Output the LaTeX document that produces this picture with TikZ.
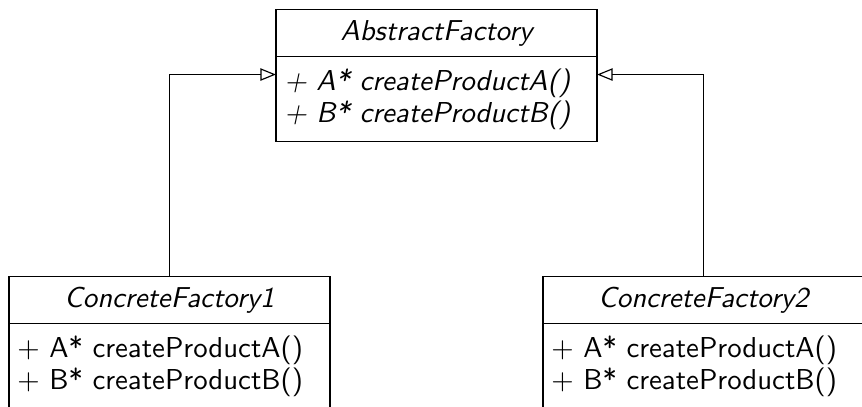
\documentclass[tikz,border=0pt]{standalone}
\usepackage{tikz}
\usetikzlibrary{arrows.meta,positioning}

\begin{document}
\begin{tikzpicture}[
        x=0.3472pt, y=0.3472pt,
        every node/.style={font=\sffamily\fontsize{10}{11.25}\selectfont},
        classname/.style={
            draw,
            minimum width=111.5pt,
            minimum height=16.33pt,
            inner sep=0pt,
            outer sep=0pt
        },
        classops/.style={
            draw,
            minimum height=29.5pt,
            text width=105.66pt,
            inner xsep=2.92pt,
            inner ysep=0pt,
            outer sep=0pt,
            align=left
        },
        inherit/.style={-{Triangle[open, length=5.4pt, width=4.3pt]}}
    ]

        \useasboundingbox (0,0) rectangle (862,406);

        % abstract factory
        \node[classname] (af) at (436.5,373) {\itshape AbstractFactory};
        \node[classops, below=0pt of af] (afops)
            {\itshape + A* createProductA()\\\itshape + B* createProductB()};

        % concrete factories
        \node[classname] (cf1) at (169.5,106) {\itshape ConcreteFactory1};
        \node[classops, below=0pt of cf1] (cf1ops)
            {+ A* createProductA()\\+ B* createProductB()};

        \node[classname] (cf2) at (703.5,106) {\itshape ConcreteFactory2};
        \node[classops, below=0pt of cf2] (cf2ops)
            {+ A* createProductA()\\+ B* createProductB()};

        % generalisation
        \draw[inherit] (cf1.north) |- ([yshift=-6.25pt]afops.north west);
        \draw[inherit] (cf2.north) |- ([yshift=-6.25pt]afops.north east);

    \end{tikzpicture}
\end{document}
